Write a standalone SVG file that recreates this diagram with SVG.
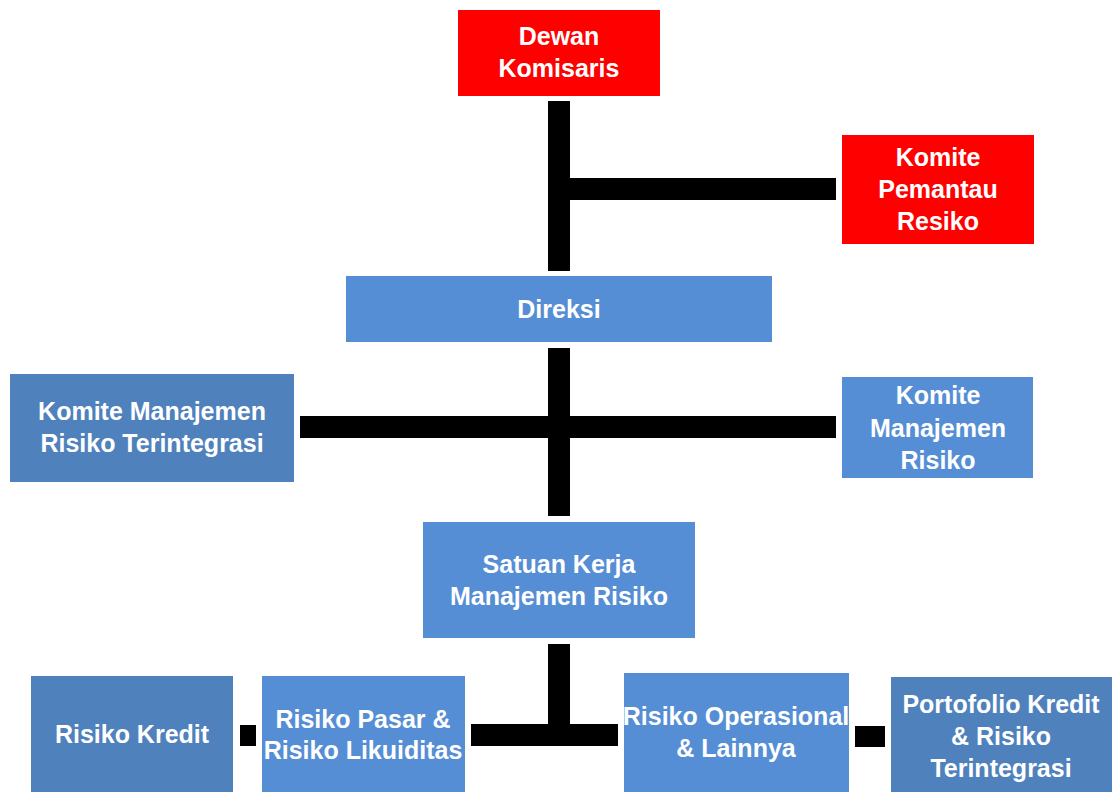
<svg xmlns="http://www.w3.org/2000/svg" width="1112" height="792" viewBox="0 0 1112 792">
<style>
.red{fill:#FF0000}
.blue{fill:#558ED5}
.dark{fill:#4F81BD}
.bar{fill:#000000}
text{font-family:"Liberation Sans",Arial,sans-serif;font-weight:bold;font-size:25px;fill:#FFFFFF;text-anchor:middle}
</style>
<rect width="1112" height="792" fill="#FFFFFF"/>
<g id="connectors">
<rect class="bar" x="548" y="101" width="22" height="170"/>
<rect class="bar" x="570" y="178" width="266" height="22"/>
<rect class="bar" x="548" y="348" width="22" height="168"/>
<rect class="bar" x="300" y="416" width="536" height="22"/>
<rect class="bar" x="548" y="644" width="22" height="81"/>
<rect class="bar" x="471" y="724" width="147" height="22"/>
<rect class="bar" x="240" y="725" width="16" height="21"/>
<rect class="bar" x="855" y="726" width="30" height="21"/>
</g>
<g id="dewan-komisaris">
<rect class="red" x="458" y="10" width="202" height="86"/>
<text x="559" y="45">Dewan</text>
<text x="559" y="77">Komisaris</text>
</g>
<g id="komite-pemantau-resiko">
<rect class="red" x="842" y="135" width="192" height="109"/>
<text x="938" y="166">Komite</text>
<text x="938" y="198">Pemantau</text>
<text x="938" y="230">Resiko</text>
</g>
<g id="direksi">
<rect class="blue" x="346" y="276" width="426" height="66"/>
<text x="559" y="318">Direksi</text>
</g>
<g id="komite-mr-terintegrasi">
<rect class="dark" x="10" y="374" width="284" height="108"/>
<text x="152" y="420">Komite Manajemen</text>
<text x="152" y="452">Risiko Terintegrasi</text>
</g>
<g id="komite-mr">
<rect class="blue" x="842" y="377" width="191" height="101"/>
<text x="938" y="404">Komite</text>
<text x="938" y="437">Manajemen</text>
<text x="938" y="469">Risiko</text>
</g>
<g id="satuan-kerja">
<rect class="blue" x="423" y="522" width="272" height="116"/>
<text x="559" y="573">Satuan Kerja</text>
<text x="559" y="605">Manajemen Risiko</text>
</g>
<g id="risiko-kredit">
<rect class="dark" x="31" y="676" width="202" height="116"/>
<text x="132" y="743">Risiko Kredit</text>
</g>
<g id="risiko-pasar">
<rect class="blue" x="262" y="676" width="203" height="116"/>
<text x="363" y="728">Risiko Pasar &amp;</text>
<text x="363" y="759">Risiko Likuiditas</text>
</g>
<g id="risiko-operasional">
<rect class="blue" x="624" y="673" width="225" height="119"/>
<text x="736" y="725">Risiko Operasional</text>
<text x="736" y="757">&amp; Lainnya</text>
</g>
<g id="portofolio-kredit">
<rect class="dark" x="891" y="677" width="221" height="115"/>
<text x="1001" y="713">Portofolio Kredit</text>
<text x="1001" y="745">&amp; Risiko</text>
<text x="1001" y="777">Terintegrasi</text>
</g>
</svg>
